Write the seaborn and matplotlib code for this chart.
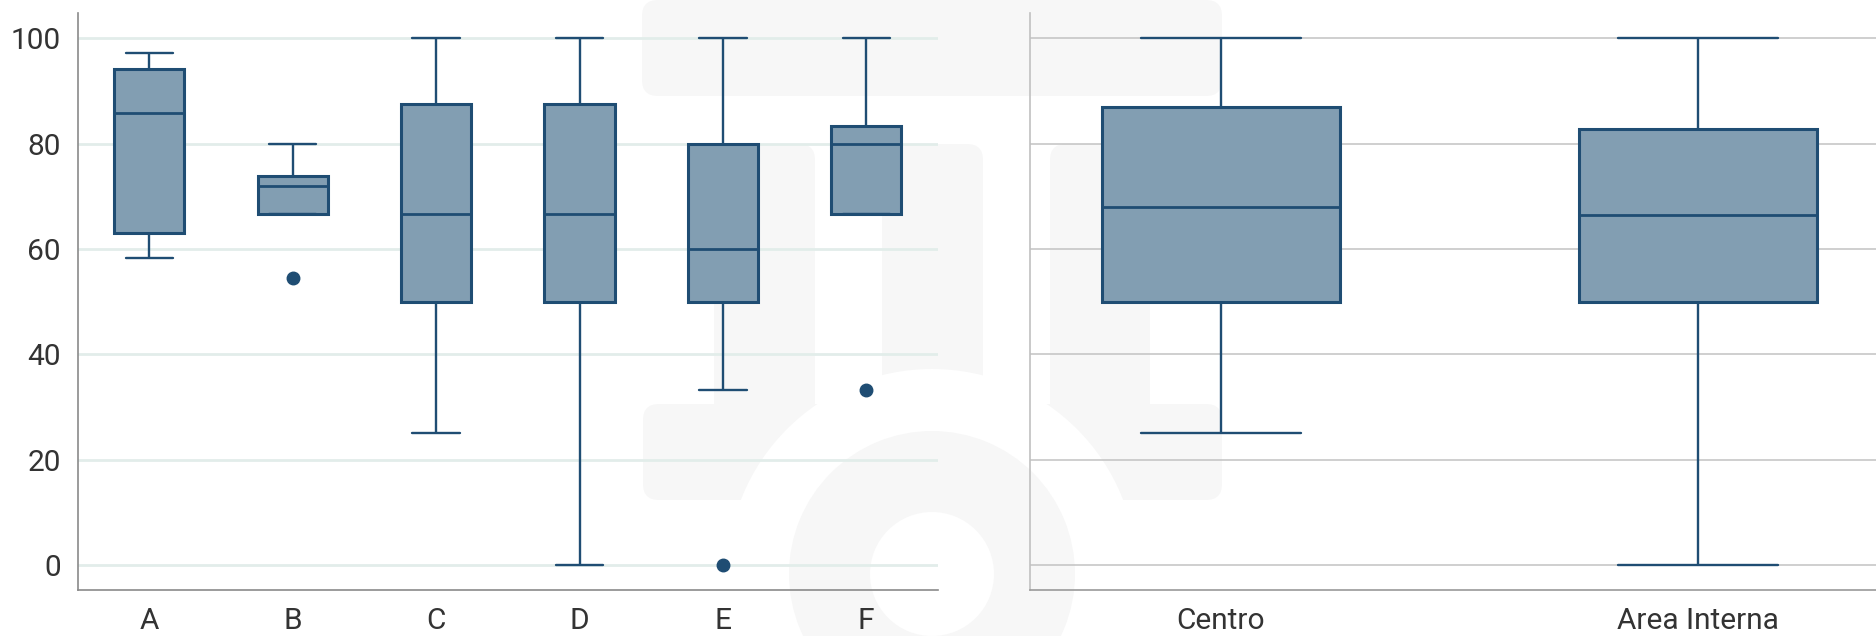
import pandas as pd
import matplotlib.pyplot as plt
import seaborn as sns
from matplotlib.patches import FancyBboxPatch, Circle, Wedge

# values (each list gives min/outlier, Q1, median, Q3, max)
groups = ['A', 'B', 'C', 'D', 'E', 'F']
a_vals = [58.3, 63.0, 85.8, 94.2, 97.2]
b_vals = [54.5, 66.7, 72.0, 73.9, 80.0]
c_vals = [25.0, 50.0, 66.7, 87.5, 100.0]
d_vals = [0.0, 50.0, 66.7, 87.5, 100.0]
e_vals = [0.0, 33.3, 50.0, 50.0, 60.0, 80.0, 80.0, 100.0, 100.0]
f_vals = [33.3, 66.7, 80.0, 83.3, 100.0]

zones = ['Centro', 'Area Interna']
centro_vals = [25.0, 50.0, 68.0, 87.0, 100.0]
interna_vals = [0.0, 50.0, 66.4, 82.8, 100.0]

y_ticks = [0, 20, 40, 60, 80, 100]

left_df = pd.DataFrame({
    'group': [g for g, v in zip(groups, [a_vals, b_vals, c_vals, d_vals, e_vals, f_vals]) for _ in v],
    'value': a_vals + b_vals + c_vals + d_vals + e_vals + f_vals,
})
right_df = pd.DataFrame({
    'zone': ['Centro'] * len(centro_vals) + ['Area Interna'] * len(interna_vals),
    'value': centro_vals + interna_vals,
})

sns.set_style('white')
plt.rcParams['font.family'] = ['Roboto', 'DejaVu Sans']

line_color = '#1f4d73'
fill_color = '#829eb2'
mark_color = '#f7f7f7'

fig = plt.figure(figsize=(18.76, 6.36), dpi=100)

# light logo in the background
bg = fig.add_axes([0, 0, 1, 1], zorder=-1)
bg.set_xlim(0, 1876)
bg.set_ylim(636, 0)
bg.axis('off')
rs = 'round,pad=0,rounding_size=16'
bg.add_patch(FancyBboxPatch((642, 0), 580, 96, boxstyle=rs, fc=mark_color, ec='none'))
bg.add_patch(FancyBboxPatch((714, 144), 101, 320, boxstyle=rs, fc=mark_color, ec='none'))
bg.add_patch(FancyBboxPatch((882, 144), 101, 320, boxstyle=rs, fc=mark_color, ec='none'))
bg.add_patch(FancyBboxPatch((1050, 144), 100, 320, boxstyle=rs, fc=mark_color, ec='none'))
bg.add_patch(FancyBboxPatch((643, 404), 320, 96, boxstyle=rs, fc=mark_color, ec='none'))
bg.add_patch(FancyBboxPatch((902, 404), 320, 96, boxstyle=rs, fc=mark_color, ec='none'))
bg.add_patch(Circle((932, 574), 205, fc='white', ec='none'))
bg.add_patch(Wedge((932, 574), 143, 0, 360, width=81, fc=mark_color, ec='none'))

ax1 = fig.add_axes([0.0414, 0.0723, 0.4586, 0.907])
ax2 = fig.add_axes([0.549, 0.0723, 0.451, 0.907])

box_kws = dict(
    color=fill_color, saturation=1, linecolor=line_color, linewidth=2.2,
    whiskerprops=dict(linewidth=1.7), capprops=dict(linewidth=1.7),
    medianprops=dict(linewidth=2.0),
    flierprops=dict(marker='o', markerfacecolor=line_color,
                    markeredgecolor=line_color, markersize=9),
)

sns.boxplot(data=left_df, x='group', y='value', order=groups, ax=ax1,
            width=0.49, whis=1.5, capwidths=0.33, **box_kws)
sns.boxplot(data=right_df, x='zone', y='value', order=zones, ax=ax2,
            width=0.5, whis=(0, 100), capwidths=0.335, **box_kws)

for ax in (ax1, ax2):
    ax.set_facecolor('none')
    ax.set_ylim(-4.75, 104.75)
    ax.set_yticks(y_ticks)
    ax.set_xlabel('')
    ax.set_ylabel('')
    ax.set_axisbelow(True)
    ax.spines['top'].set_visible(False)
    ax.spines['right'].set_visible(False)
    ax.tick_params(axis='both', length=0, labelsize=21.5, labelcolor='#333333')
    ax.tick_params(axis='x', pad=12)
    ax.tick_params(axis='y', pad=12)

ax1.set_xlim(-0.5, 5.5)
ax1.yaxis.grid(True, color='#e2edea', linewidth=2)
ax1.spines['left'].set_color('#8a8a8a')
ax1.spines['bottom'].set_color('#8a8a8a')
ax1.spines['left'].set_linewidth(1.2)
ax1.spines['bottom'].set_linewidth(1.2)

ax2.set_xlim(-0.4, 1.373)
ax2.yaxis.grid(True, color='#c2c2c2', linewidth=1.1)
ax2.tick_params(axis='y', labelleft=False)
ax2.spines['left'].set_color('#c0c0c0')
ax2.spines['bottom'].set_color('#9a9a9a')
ax2.spines['left'].set_linewidth(1.2)
ax2.spines['bottom'].set_linewidth(1.2)

plt.savefig('out.png', dpi=100)
